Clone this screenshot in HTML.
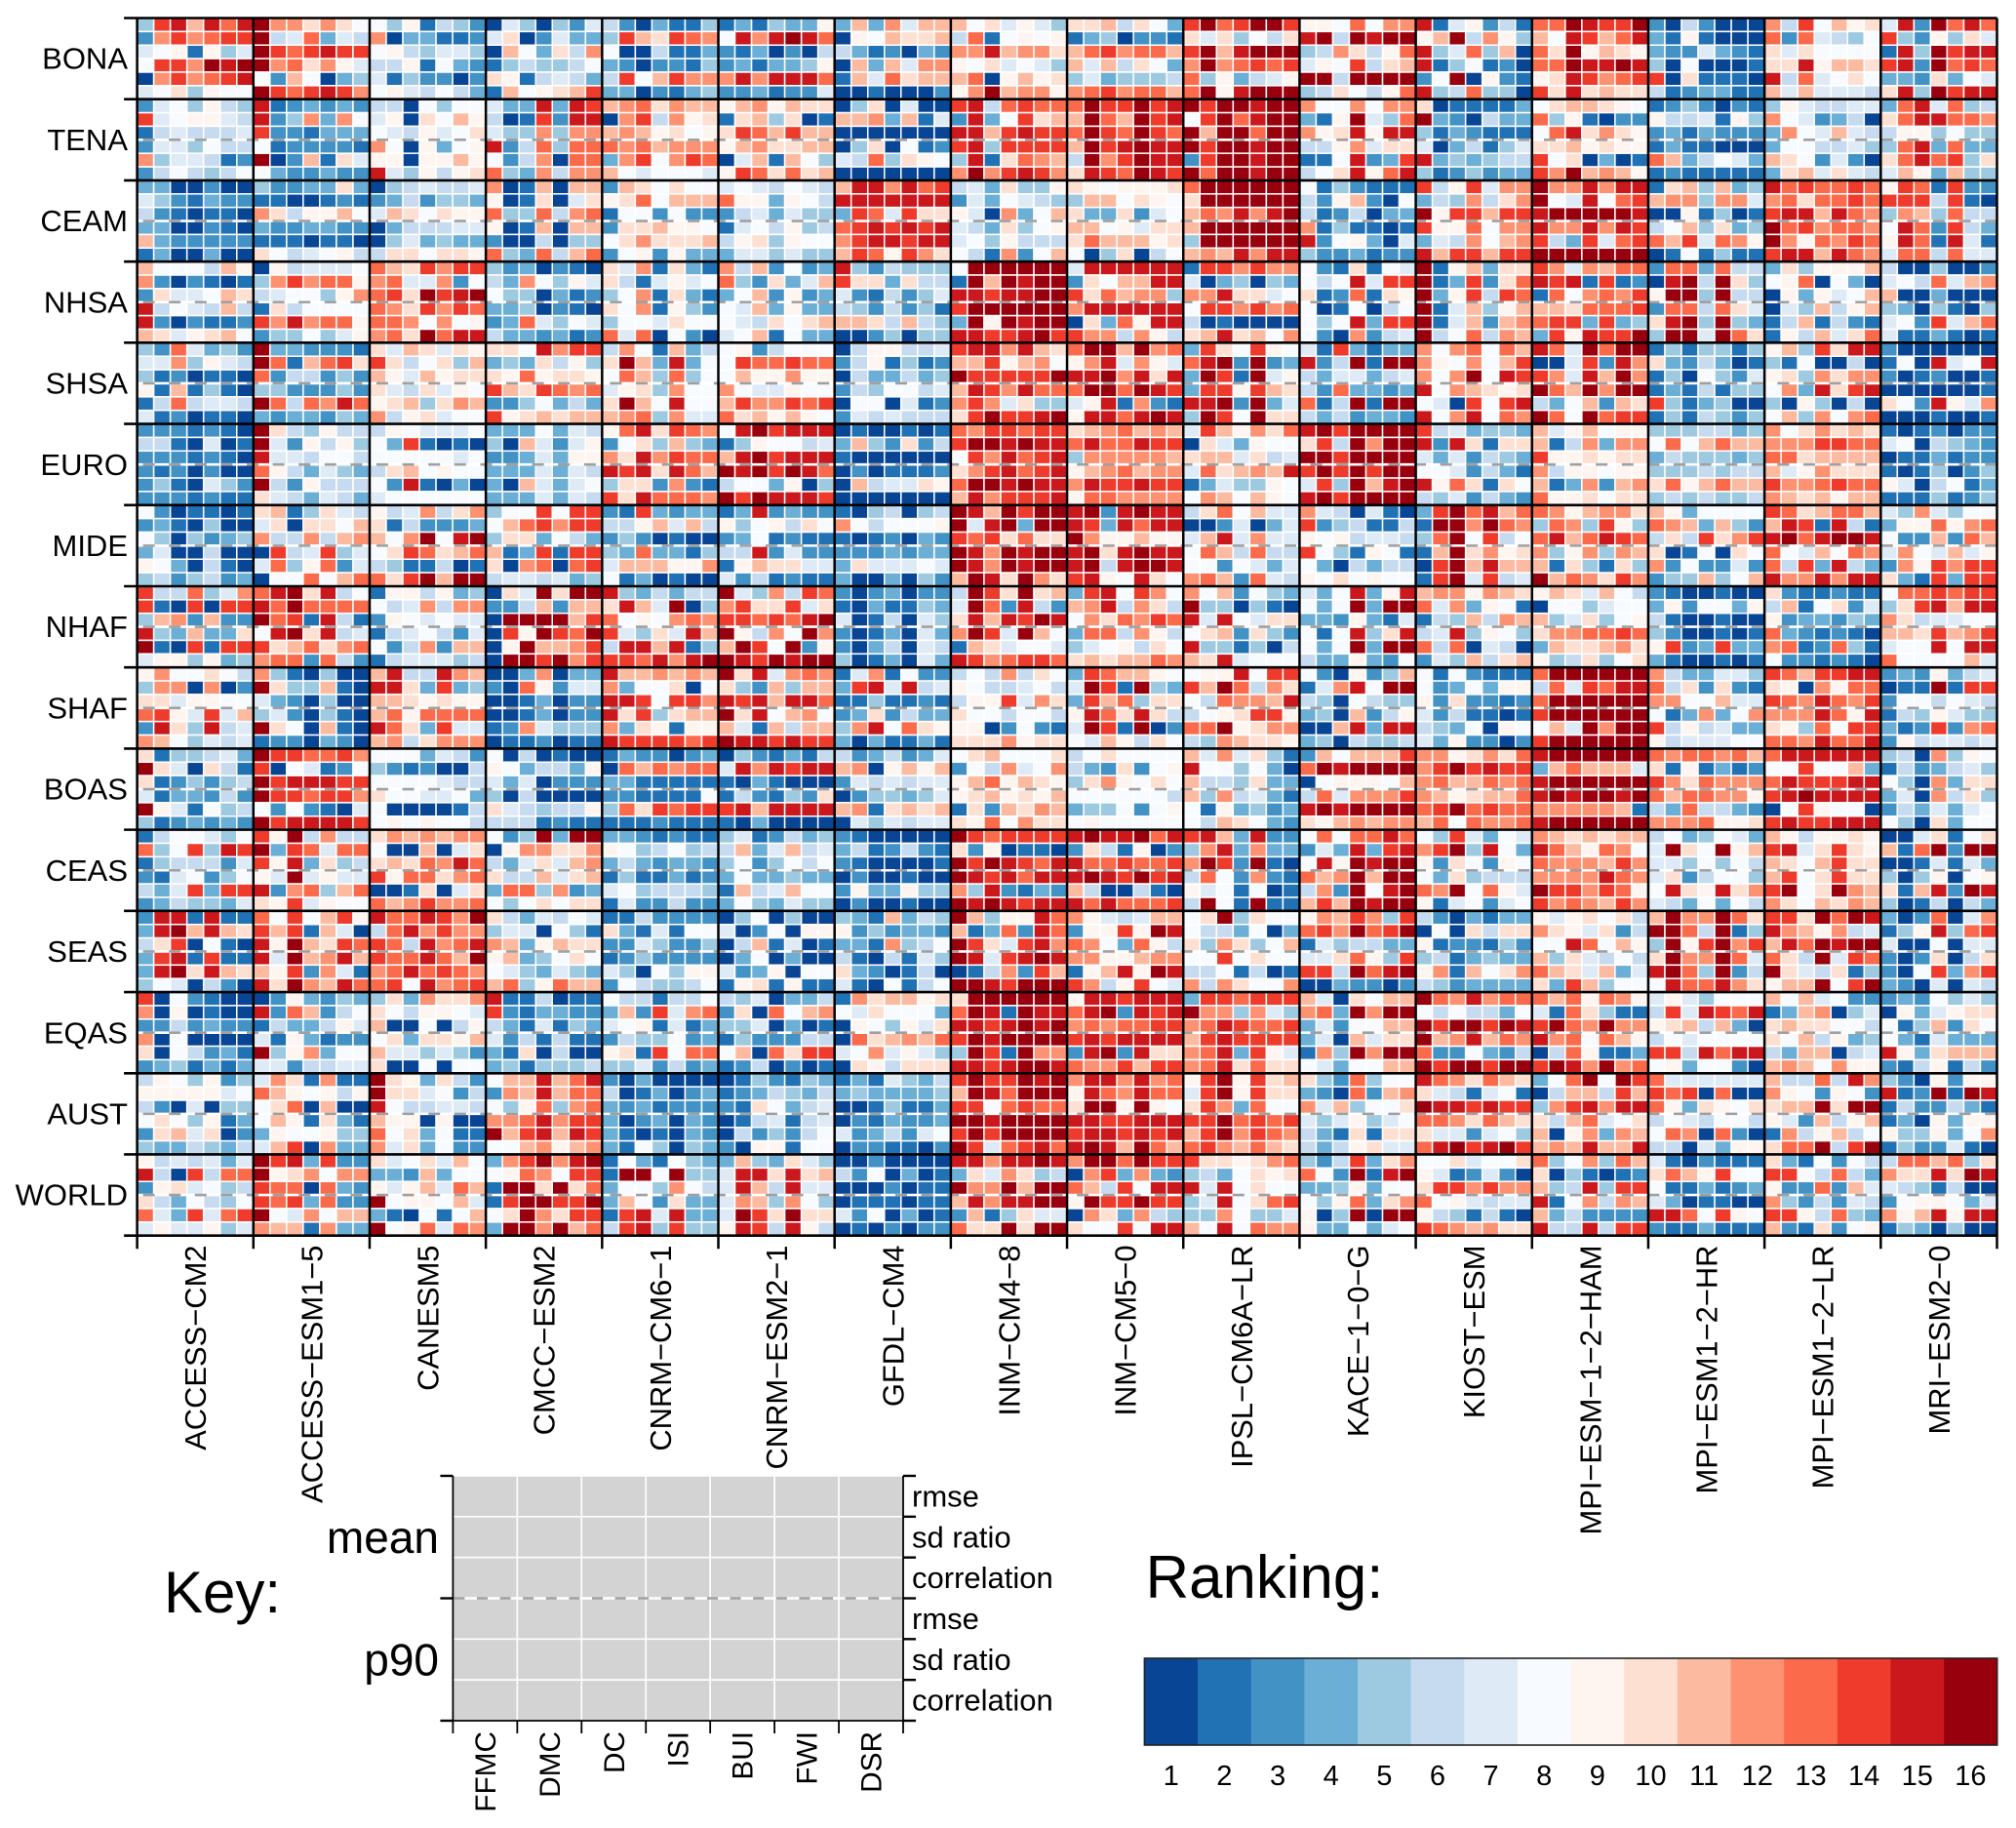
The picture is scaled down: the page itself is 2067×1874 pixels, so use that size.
<!DOCTYPE html>
<html lang="en">
<head>
<meta charset="utf-8">
<title>CMIP6 model ranking by region</title>
<style>
html,body{margin:0;padding:0;background:#fff}
svg{display:block}
text{font-family:"Liberation Sans",Arial,sans-serif;fill:#000}
</style>
</head>
<body>
<svg id="chart" xmlns="http://www.w3.org/2000/svg" width="2067" height="1874" viewBox="0 0 2067 1874"></svg>
<script>
const regions = ["BONA","TENA","CEAM","NHSA","SHSA","EURO","MIDE","NHAF","SHAF","BOAS","CEAS","SEAS","EQAS","AUST","WORLD"];
const models = ["ACCESS\u2212CM2","ACCESS\u2212ESM1\u22125","CANESM5","CMCC\u2212ESM2","CNRM\u2212CM6\u22121","CNRM\u2212ESM2\u22121","GFDL\u2212CM4","INM\u2212CM4\u22128","INM\u2212CM5\u22120","IPSL\u2212CM6A\u2212LR","KACE\u22121\u22120\u2212G","KIOST\u2212ESM","MPI\u2212ESM\u22121\u22122\u2212HAM","MPI\u2212ESM1\u22122\u2212HR","MPI\u2212ESM1\u22122\u2212LR","MRI\u2212ESM2\u22120"];
const indices = ["FFMC","DMC","DC","ISI","BUI","FWI","DSR"];
const metrics = ["rmse","sd ratio","correlation","rmse","sd ratio","correlation"];
const statistics = ["mean","p90"];
const legendRanks = [1,2,3,4,5,6,7,8,9,10,11,12,13,14,15,16];
const palette = ["#084594","#2171b5","#4292c6","#6baed6","#9ecae1","#c6dbef","#deebf7","#f7fbff","#fff5f0","#fee0d2","#fcbba1","#fc9272","#fb6a4a","#ef3b2c","#cb181d","#99000d"];

// Ranks are base-17 digits (1-9, a=10 ... g=16). One string per model; six rows of seven indices.
const rankBONA = [
"5efbfdf 3cecdee 7892957 8eecgfg 1cecdef 78a5988",
"gccaca8 g67d476 gedefee gcdac97 83b8145 gedefec",
"8592653 c144223 8965775 6692843 7253313 8976864",
"1751537 7a13744 1b84a6c 2565568 a926764 2b89abe",
"6314225 5ebaedc 8116224 4313325 6e8becc 4413245",
"2425449 8fcfgfd 3241316 3424459 cfcfffd 3342337",
"4b4c7bb 198baab 6423143 1b4b7cc 2b7dabb 1121113",
"b8a7975 6d28989 ccfbcca 98a7875 bd19b9a 9cgbcc9",
"aab6a84 2451332 bdecddb b7b6a84 5745556 cdecddb",
"egdegge a7a586a egbfggg cgcdede d594679 dg9fggg",
"998d8cc fg6gfgg 56ca69d 798e6ab gg6gggg 56a869d",
"f279362 9bg6c95 f57d5b1 f258231 38g1932 f56d551",
"ddgfeeg b8febdf dag9ba9 ddgffgf 9afecde eafabaa",
"3163111 4292111 4337432 5181112 e1a2221 6234422",
"c6e8b9a d3d7658 a7a8888 aaf9bba f6d78a8 b7b7776",
"7f3gdfd e5395a7 2f5geff ef3gded 443a487 af5geff"];
const rankTENA = [
"3785965 e789976 2676667 3775866 c577623 3686568",
"f234343 f35c4c8 e332444 8233332 g13b2a7 8433433",
"6618588 791a8b9 876978a c819489 99199b9 f75969a",
"744f4fe 612e3ff 755c5cc f36d5dd 836c1dd d54c6cc",
"bcdacbb 1ce6c9a bcb9a89 dcdbccc 4ce8ced b878887",
"9bc9baa 2ab5a12 aedbebb 9bcaabb 17b2b85 9edadab",
"15a1711 bbc4b27 1111111 15a1823 76d5a98 1111111",
"ef6dedd 3f48eab ffbefee ef5eeee 5f2adcb cgcefec",
"dgeegef bgdbgef dgedged bgefgff 6gcegff afedgfe",
"geggfgg 8egdfgg gbggdgg geggfgg 3eggfgg gdggfgg",
"c88c8cc 429g75d c9af9ff 669c7aa 228f34e 68af9df",
"a122224 g431644 5243222 7146257 f454566 5235344",
"8abba98 d592133 8dfaca9 aab9a99 e8a1412 ecgbcb9",
"2353132 9667295 3424333 2422111 db46874 2322222",
"5976677 c873461 4c87b76 4886675 ba83731 4ab7a76",
"4df7d56 adffddc 6995855 5df4d44 adfde5a 7b94b55"];
const rankCEAM = [
"4411311 7532433 6321221 4411321 b433333 2411411",
"53344a4 2211232 ca699b8 4334433 2221221 a867896",
"1567667 3463554 7ba8a99 1466677 1574544 6aa8aa9",
"c12b1bb 912a17a d55d6cd 912b1bb 3116155 d54d6bd",
"3ba8a88 9ad8bbb 2883833 3aab998 8acaaab 3893944",
"7876876 d994986 3674755 2786956 69a5988 4775755",
"bffcfde fffffff 4ed7eaa defefef ceffeff bed9eca",
"674a559 3748765 971c48b 764a589 7859666 862c38b",
"a98999a 5bb8a98 a44a378 bb897aa adbbb9a 815a168",
"dgggggg agggggg bdcfcfg bgggggg 5gggggg bcbfcff",
"8253222 639b318 6236144 c252212 f389417 5334233",
"e69e7cc 465c6ac g9eebee e99d8cc 476c8bc fbeebee",
"gccfcff g87f8de fgggggf fccfcfe e64e7de ggggggg",
"2ab5b45 bcc5cc7 1192512 68b5a45 dbe7dc9 1282522",
"fdedded cdadded effbfdc gdecddc gc9dced effbfdc",
"9ed2e33 eee6e21 5cb5d66 8fd3e64 9fd2f72 7dd6d77"];
const rankNHSA = [
"b8886b9 c313212 3a778ba f6876b6 f313223 ba79ab8",
"1967778 5cecdd9 678859c 2a68888 ecfcdd9 3558579",
"dbaecee cd77c38 deagefg dcaeced ddc8c89 cdagdff",
"5341321 64c8597 8551423 4451321 34d7587 6443423",
"a7c2a42 a627978 58c2a42 a8c2953 5887a88 d7d1831",
"c6b3834 d53a47b 48b3934 87b4944 876a8ab 78b2844",
"f536555 eaa4a66 7326357 6536352 bba6b65 1135155",
"8gggggg 2gbgfgg ffeffgg egggggg 4g9gfgg ffeefge",
"7ffffff 3a8bbff eadbcc5 cffffff 1a4d9ff ecc6c96",
"2eececc 7145154 ccfaa78 8eececd 6121111 abfab8c",
"832a287 868f7ee a23d2a9 8128168 858f4ee 831c367",
"g29b4aa g24e3ad g49e6ed g27b59b g27b3bc g68d6cb",
"ec7cbdd fef2e23 2d8cdce bbaddde dee4e45 4e9feeg",
"3dd4d66 1fg6ga5 9gg5g66 3dd6da7 afg5g54 5gg7gda",
"4a5999b 89d1841 194978b 175b69b 26b2632 296b7ad",
"6115113 786d7bc b114111 5415215 783e7bd 7224212"];
const rankSHSA = [
"53d7453 77c5976 5231221 92b2521 26d6776 7231221",
"g443332 gd2bdea d366353 5533353 gd6dcfd 4344354",
"a7ba7a9 ea68a5b b97b9aa a76a798 9ab5acb c69a788",
"aa8fcee 454a695 a9d9aa9 ebaedcd 3358464 e9ababb",
"6c82b46 agb4f48 8db5d58 79a5c88 agb8f88 bcd5c77",
"8936888 8eddedd 8b99c99 c877988 beccede dab9b98",
"1699667 3692523 1644645 3658867 1881723 3767666",
"effcfba bbe9bc8 geeeeeg bfecfdd cec7a55 aegeefg",
"dggbgcd 9cf7c97 ffgcfaf dggdgfe 79f2c32 9ffdfgf",
"4ea8e98 dfg3g34 4ge2g79 4ee9eba ffg3g47 5ge8gaa",
"72e4244 f36g2gg 6477467 63d4434 d26g2gg 6463443",
"c8cd8db c98c8be c8cg8fe f8cba9a 871e8ef f8cf8dc",
"fd7gdgg 117e3fc ec7fbgc gdbgcgg 648b3ba gd8gdee",
"2525525 a436412 2518537 2426255 e524511 2526535",
"9b5eaff 5281161 9a5cacc 8c4faef 5195161 8b5c8cd",
"3111111 281f78f 3123112 1111112 a83f97c 1112112"];
const rankEURO = [
"3332321 6621712 3332321 3231311 3521753 3332322",
"ga65966 g739695 f776886 d964754 g639666 a764764",
"6987778 84e2121 8888878 6ab8988 83f2141 7888888",
"4448476 51b7379 3347499 4447476 41b7478 4447476",
"9dfaedc 38a5b54 cafcedd fefafdb 5aa3c32 eafdddc",
"8fgefff 2598867 bfgefff gfgegfd 6884915 gegfffe",
"1211212 4b53a36 2111111 1312223 1b677a9 1111111",
"dceedee eggfgff 8ecfdef acefdef dggfgff bfceeef",
"abcdbcb dfddfee 5cccccb 9bcdbcc cfeefee 9ddcccc",
"7eb9cad 1a74988 abb7a67 7dabcbf 2475598 8cb8b98",
"fgegggg ae6gcgg ggegggg egegegg 7e5gbfg fgegggg",
"e674554 f3fa2aa 7473654 8873642 f9da2a8 6573643",
"b79b899 b26c4cc e99a9aa c699899 b24c3bc d99a8aa",
"5556645 8d8bdbb 4655545 5556566 ad9bdbb 5656556",
"c8acaba ccceedd ddabbbb b79caaa eccdedd cbab9bb",
"2123133 7816543 1224233 2125135 9716824 2225235"];
const rankMIDE = [
"8312212 3421511 8515345 4711611 9841621 5635634",
"ab25a76 7a1aa8b c66c6bc 1e67e57 7d59d37 188d8bd",
"967c6ac a263334 b8cg8fg 8aedabd 6522612 daegbgg",
"588e8ee 8bdecee 5aa4864 b24e2ee a1cd1de 6776745",
"32e4344 669b7b6 3531211 54d4425 7bbb99c 8241211",
"24f3433 95896a8 3482322 66f3733 29baa77 7362322",
"2156156 c868889 2123143 3334344 4a77787 4114153",
"gfbgegg g7fg4gg edeadaa gfcgfgg gfcgfgg bgfagca",
"fg3fgff fe4fdff gc99b99 fgafgff fg6fggf ef98fa8",
"6ad8b77 1137147 7bf7c77 8db6d66 8838747 cdb3d76",
"c761721 e356226 9896776 e852982 8416466 98a8988",
"4egdfbd 2ggcgdc 5dg8e68 2bgac9a 1egbfbb 2eg7e67",
"dc9bcca 5dc5e95 dfbdfed c59c5cb b2a52a5 gbdcaec",
"b948888 dcb4b53 6a6eace a1281a8 c383373 355b58b",
"edabddb bfe2f62 fgdfggf d87b8dc d6e4f64 fccfcff",
"75c7588 499d9cd 833b3db 7c87b79 3c9ecee a42e4ee"];
const rankNHAF = [
"e66d57c e21e1ee 5bc3b33 f54b44a g21e2ee 7995945",
"dfgaf68 fdgdddd gde2f62 8fgaf67 eabdacd cdd3d63",
"2996945 867c6cc 3987877 2678637 836c3bb 2677756",
"1a7gagg 336b3bb 1ggggbe 1e9gedg 19gbbce 1ggegce",
"f546466 afb7g15 d898cdc e75a7fb 6ffbf25 eedfcfg",
"g75c6ed ceaae7a eededfg g96c8gc bge8g39 gfegfgg",
"3134133 2142254 7126175 3124174 3146176 5124174",
"6geagab 7gd3f63 afbfegf cge7gb8 2ba7887 fecdeed",
"4ef8ec8 bcf6ca6 8cadced 4dd6c96 57896a8 ababbdc",
"c8b3854 g551521 f7f87aa 8ab3a53 f552516 baf7888",
"748f49f 848g4gg 4439427 828f5af 848g4gg 6449438",
"bcc9cba d7c4982 265b6cb 67f5985 d6d1761 375b6ab",
"9ba7b86 1885788 b57a589 accdded 4baabca 956a58a",
"3211211 4938849 6211211 5311212 9e34e44 4211212",
"a322322 6b28a37 9344354 d432321 cd23d52 8332321",
"8ddedee 5aefbff ca67788 bbaebce 788f8ff d8888b7"];
const rankSHAF = [
"9c88a86 5cc1c13 aa79988 de97e7b 3fa5f67 cb85767",
"c521511 ga55b21 7431511 5731521 ga81b21 2331431",
"bf66fcb ffa4e45 bba9a99 bd9dddd fda4e77 bc6accc",
"114c144 31d9377 1124133 1124133 23c7555 1223122",
"fbbcbcb c488a18 ffe8eec fae5abb c4a9299 feeeede",
"gaf7cdc a53b5bb fefbffd gaf8bc8 b72b6bb gffefee",
"27c2833 4ef7f67 2252232 34a3644 5cf8da9 4142242",
"686c6a8 9866786 699e7ca a886886 9913832 aaac9aa",
"4edbb98 7ge2g54 4ebd5aa 9fdafa6 7ge2g13 87b96a8",
"899f8ee ebgd6ca 86dccbf 689aee9 ddg9acc 65cbaa9",
"831935b 27cf8gg 6518655 451b369 11bf4ff 4516556",
"8283222 8348499 93a3323 7362212 6548198 7493313",
"dgggggg 6d7edff dgggggg egggggg 8b7gcgg egggggg",
"c644775 d6a3a32 cc88b77 824c48c e696744 9677788",
"edbeeff a91c9dd edcfdce cccfd9f a95d8ee ddcfddf",
"3439467 122g2ee 3886876 2659755 423e3cd 3967767"];
const rankBOAS = [
"a255674 ga71a62 a235356 7244363 g972856 5234343",
"geeddec e187238 gefffee geedeec 8383217 geffffe",
"8884763 5323116 8888766 a887784 8111126 8989886",
"8161211 9846649 7471333 5161111 a765669 6662322",
"2433134 1dbdcdd 4422222 3322228 5daedee 2223222",
"1532426 7fcfeff 2142111 263253a efbffff 2141111",
"6346347 bc19b9b 3767677 1355457 bc2abab 1757677",
"8ab888a 386c78c 9bd9ba9 9ab9a9b 2a3bacb a9d8caa",
"68a8888 643a389 5ac98a8 8888886 4558389 8988888",
"b7c7a52 f885841 b665a44 b5c6742 8294534 86ba843",
"3b8bbbe dgfgggg 189998b 6d7ccce fgfgggg a9bcbcc",
"cc9acad cegefee cdbbdcd cb9abbd degdedd bd8dccd",
"fgggggg 4bdbbb7 fgggggg fgfggfg cccccb2 fgggggg",
"dcddcdb a292423 ecadccc dbddcc9 64d6643 cccd99a",
"dffffff 88e88b4 dfeeeff efgffff 18e9881 efeefff",
"561c598 2634675 851c4aa 471c6a5 3647478 851a488"];
const rankCEAS = [
"2688758 d58e5fe 2566637 3278358 647e4ee 3465547",
"e9g6c66 g4ed7dd e9f4a56 97g7977 f3cd5bd a9e7988",
"acbcbcc 811b17a abadcfd e9ddacd 112a17a dbceccd",
"835g4gg 19ccaac 647a7bc a66b7ab 4dd5c34 858a8aa",
"4432322 9856856 4643443 2522423 7856665 2733633",
"5723645 6b47b67 5835868 4844544 2b67b88 4854755",
"3211111 4623632 3211112 1311211 3944955 1311211",
"gedeeee a391221 gegfedf gfefdff c5f3243 gfgfeff",
"fgffgdf 3a62913 fddedde fgfegef b611621 fdfddde",
"efb4f33 5cf4c44 cge3g21 6d83c32 9782812 6g82g22",
"8d8ddfd 374f4ef 8f9gfgg dbcgbgg 6c3g8fg bebgfgg",
"85e7487 ceg5f84 93a8398 84a5666 dcg8d97 9278378",
"cbababb fdb9dc8 dcccbec ccccfdc geeced9 ecdcbec",
"6845874 7ga8g9b 7758586 7a36885 8fa9fac 7648486",
"b9699a9 ef7aea9 ba8beaa be8aeaa eg8agcb ca8bacb",
"117a28a b2dg3gg 1127274 5159189 a2bf3gf 5126164"];
const rankSEAS = [
"3ff2f22 4fgbfba 6ae1821 4ef2e22 4fgafba 5871631",
"d8e8be9 ebe2b71 f9gbaed f7gbcfb b9e3c72 fagcbfd",
"fddfecg 6dfcecc ed6fcdf eddfdbg cdfdedc de8fcde",
"a647687 5771852 cb49baa 9b458a8 8754754 bd59dbb",
"2263333 a427288 3375335 2353333 7518599 3865568",
"1581511 7138199 16b2712 1481411 7349188 29a2922",
"542b465 9353443 442c568 6216275 a431261 7218268",
"gb599fd b24d3fd gea7efc gf7efgf 126c3eb ggfeggg",
"c9767bb 399e9gf dc84d96 cc99bcc 29bf9gf ec69e87",
"8ag5a88 8664814 a5ca58b 88e8a88 6682612 c6ca88c",
"9cbec5e decgdeg 2756644 77ad95e ee6gdfg 1143313",
"6314244 181a6aa 9233253 5624544 9c2b8ac 6534444",
"979a8a6 ca97a36 88fd8b9 b5a7686 dba7b47 a4eb588",
"bgccgda ggd6g25 5g9egce agccgd7 fgd5g36 8fddfca",
"eeagdgf fcb9c67 bfdgfgg da6g7ed ga76a25 9bbg8eg",
"413d17c 259f5de 7118177 313a16a 318e4ce 4317176"];
const rankEQAS = [
"e183211 c191211 3363433 c181111 a186342 3452424",
"1394354 f3db368 2644697 7294233 g59c488 7736677",
"5a4caac a869987 b118169 8a4aa9b b775753 a118188",
"f226122 e324433 6427254 7362622 42a1611 4525556",
"8662668 4b3e7cd 7892724 3655834 9a2e8dd 5573634",
"6571446 3a1d8bc 5571412 2533366 8b1daee 2361312",
"2cabb9a 87a8884 198597a 1dabcbd 78c7975 1a96aaa",
"agggggg dgf2gff ffefgfg egfgggg 5ge2gcc ffefggf",
"9ffefff dfg3fef cdcddee efeffff 3fg3faa dccebee",
"4eedeee gcc5c75 cdfedde befeeee cdf4e97 cdfadaa",
"b71a8bb cd4gcgg 47388bb 471b7aa 2c5gcgg 87488bb",
"gdcfcdd 8686648 geggegf gbcfbdc d338436 geggegg",
"dbd9dc9 72da522 egdcgcc fcd8db9 16d9224 egfcgcd",
"7975888 6e7fedf 9ab6b41 6878888 ee6fdff 8948831",
"b8b7833 24bc157 abaa886 a8b6945 64bb167 bcb8c99",
"3438575 19479aa 825b3a8 8427444 f94abbb 3269263"];
const rankAUST = [
"6985935 9999978 6317155 8a85924 3ab7a13 5446546",
"7ca2c22 db98969 8ad1b11 8b92a42 4988955 7be1c44",
"ga94a63 gaa7836 f866776 b991911 d8a4822 c7a4833",
"8bbfbdf 3cbfbdd 859d5cd ccdfcee gbefbfe 88bc9bc",
"3141111 6124134 4342333 4134143 4212143 4285154",
"1253254 2346546 32a8467 1267267 1635368 3199288",
"2427546 4544445 1125224 1324334 7346378 1332213",
"egeegfg bgfdggg ee8dedd ggfgggg egegggg ge7defd",
"cffcfcd 9fdcfdd agg9g98 ffeefff effefef fgfbgdb",
"9eg9eab 7eg9eaa aec4d88 eegdede begcedc decbdba",
"a53d588 431d3bc c7b588a 7579578 642a2aa 6469a77",
"fdcadba a762782 gffefee ddcadba a773785 dfgefge",
"48dg8ge 16bb6eb 5cefcff a6bd78a b19c4cb bcbfbbf",
"d777777 ede1d11 d94a98a 6876886 8dc1d31 6617499",
"b66d6fc c983983 abbgagg 973b69b 2c69b68 addg6eg",
"5319399 f23g2gf 2633642 2419499 955948c 2533721"];
const rankWORLD = [
"9676747 f61e6dd 39a7856 a648658 d74e7de 7977957",
"gef4e33 g9ac8cc edd1d43 ede4d33 g87c8bb cbb2c44",
"a78a7b8 443b488 979b7db g8998b7 421828b g89d7dc",
"4cegcfg 89dc8ee 2ggagad 2eggeeg 8agcaee 4ggcgbd",
"2842854 2gg8g55 4885c86 4b83a44 2ef7f44 6ef5e55",
"4b54a75 7ffafab 7fb6f77 7cb5c85 7geagaa 9fe6f96",
"1131111 6381412 1113122 1222122 7381412 1213133",
"ffcffgf 4a7ca56 gccgbgg bfcffgg 3b25a77 daagagg",
"cggdgee 1ce4c43 db6e8ff 9geegee 1ca4c65 a88e8ff",
"eaa9acd 5648a9a f7f8a88 57f8ade 55c8557 b8f8dcc",
"536e4ac d83g2fg 4459488 859d4ac 915g1gg 9448478",
"88a788a 9723731 aeececc d897677 9652621 edcbcaa",
"d58c5db a152123 b56f5ee f28c6cb b463333 f66f6ee",
"7213222 adb9e88 8224234 7412211 ffd8e98 3224222",
"a428386 ee86d64 933d3b7 c536376 ee96d54 b32a389",
"6ddbd5a caafagf 7652611 3899847 c9bf9ff 2541511"];
const rankings = [rankBONA,rankTENA,rankCEAM,rankNHSA,rankSHSA,rankEURO,rankMIDE,rankNHAF,rankSHAF,rankBOAS,rankCEAS,rankSEAS,rankEQAS,rankAUST,rankWORLD];

const NS = "http://www.w3.org/2000/svg";
const svg = document.getElementById("chart");
function make(tag, parent){
  const el = document.createElementNS(NS, tag);
  parent.appendChild(el);
  return el;
}
function setAttrs(el, attrs){
  for (const k in attrs) el.setAttribute(k, attrs[k]);
}
function line(parent, x1, y1, x2, y2, w, color, dash){
  const el = make("line", parent);
  setAttrs(el, {x1:x1, y1:y1, x2:x2, y2:y2, stroke:color || "#000", "stroke-width":w});
  if (dash) el.setAttribute("stroke-dasharray", dash);
  return el;
}
function label(parent, str, x, y, size, anchor, rotate){
  const el = make("text", parent);
  setAttrs(el, {x:x, y:y, "font-size":size, "text-anchor":anchor});
  if (rotate) el.setAttribute("transform", "rotate(-90 " + x + " " + y + ")");
  el.textContent = str;
  return el;
}

// Main heatmap axes
const plotLeft = 140.6, plotRight = 2047.5, plotTop = 18.5, plotBottom = 1266.7;
const blockW = (plotRight - plotLeft) / models.length;
const blockH = (plotBottom - plotTop) / regions.length;
const cellW = blockW / indices.length;
const cellH = blockH / metrics.length;
function xModel(m){ return plotLeft + m * blockW; }
function yRegion(r){ return plotTop + r * blockH; }
function xCell(m, i){ return xModel(m) + i * cellW; }
function yCell(r, k){ return yRegion(r) + k * cellH; }
function rankColor(rank){ return palette[rank - 1] || palette[7]; }
function rankAt(r, m, k, i){ return parseInt(rankings[r][m].split(" ")[k].charAt(i), 17); }

const cellsGroup = make("g", svg);


cellsGroup.setAttribute("stroke", "#fff");
cellsGroup.setAttribute("stroke-width", "1.5");
for (let r = 0; r < regions.length; r++){
  for (let m = 0; m < models.length; m++){
    for (let k = 0; k < metrics.length; k++){
      for (let i = 0; i < indices.length; i++){
        const c = make("rect", cellsGroup);
        
        
        setAttrs(c, {x:xCell(m,i).toFixed(2), y:yCell(r,k).toFixed(2), width:cellW.toFixed(2), height:cellH.toFixed(2), fill:rankColor(rankAt(r,m,k,i))});
      }
    }
  }
}

// Mean / p90 dashed separators
const dashGroup = make("g", svg);


for (let r = 1; r < regions.length; r++){
  const y = yRegion(r) + blockH / 2;
  line(dashGroup, plotLeft, y, plotRight, y, 2.6, "#fff");
  line(dashGroup, plotLeft + 6, y, plotRight, y, 2.6, "#a0a0a0", "12 14.6");
}

// Grid lines, ticks, labels
const gridGroup = make("g", svg);


for (let m = 0; m <= models.length; m++){
  line(gridGroup, xModel(m), plotTop, xModel(m), plotBottom + 13.5, 2.5);
}
for (let r = 0; r <= regions.length; r++){
  line(gridGroup, plotLeft - 13.5, yRegion(r), plotRight, yRegion(r), 2.6);
}
const regionLabels = make("g", svg);


regions.forEach(function(name, r){
  const t = label(regionLabels, name, 131, yRegion(r) + blockH / 2 + 10.6, 31, "end");
  
  
});
const modelLabels = make("g", svg);


models.forEach(function(name, m){
  const t = label(modelLabels, name, xModel(m) + blockW / 2 + 11, 1276.5, 30.9, "end", true);
  
  
});

// Key panel
const keyLeft = 464.4, keyRight = 926, keyTop = 1513, keyBottom = 1764;
const keyW = (keyRight - keyLeft) / indices.length;
const keyH = (keyBottom - keyTop) / metrics.length;
function xKey(i){ return keyLeft + i * keyW; }
function yKey(k){ return keyTop + k * keyH; }
const keyGroup = make("g", svg);


for (let k = 0; k < metrics.length; k++){
  for (let i = 0; i < indices.length; i++){
    const c = make("rect", keyGroup);
    
    
    setAttrs(c, {x:xKey(i), y:yKey(k), width:keyW, height:keyH, fill:"#d3d3d3", stroke:"#fff", "stroke-width":1.6});
  }
}
line(keyGroup, keyLeft, yKey(3), keyRight, yKey(3), 2.6, "#fff");
line(keyGroup, keyLeft + 1, yKey(3), keyRight, yKey(3), 2.6, "#a0a0a0", "11 12.6");
line(keyGroup, keyLeft, keyTop, keyLeft, keyBottom, 1.8);
line(keyGroup, keyRight, keyTop, keyRight, keyBottom, 1.8);
line(keyGroup, keyLeft, keyBottom, keyRight, keyBottom, 1.8);
for (let k = 0; k <= metrics.length; k++){
  line(keyGroup, keyRight, yKey(k), keyRight + 13, yKey(k), 2.4);
}
for (let k = 0; k <= metrics.length; k += 3){
  line(keyGroup, keyLeft - 13, yKey(k), keyLeft, yKey(k), 2.4);
}
for (let i = 0; i <= indices.length; i++){
  line(keyGroup, xKey(i), keyBottom, xKey(i), keyBottom + 13, 1.8);
}
metrics.forEach(function(name, k){
  const t = label(keyGroup, name, 935, yKey(k) + keyH / 2 + 10.6, 31, "start");
  
  
});
indices.forEach(function(name, i){
  const t = label(keyGroup, name, xKey(i) + keyW / 2 + 10.5, 1775, 29.8, "end", true);
  
  
});
statistics.forEach(function(name, s){
  const t = label(keyGroup, name, 450, yKey(s * 3) + keyH * 1.5 + 16, 46, "end");
  
  
});
const keyTitle = label(svg, "Key:", 168, 1653, 60, "start");



// Ranking legend
const barLeft = 1173.4, barRight = 2047.7, barTop = 1700, barBottom = 1789;
const barW = (barRight - barLeft) / legendRanks.length;
function xLegend(n){ return barLeft + n * barW; }
const rankingTitle = label(svg, "Ranking:", 1174.5, 1638, 61.8, "start");


const legendGroup = make("g", svg);


legendRanks.forEach(function(rank, n){
  const s = make("rect", legendGroup);
  
  
  setAttrs(s, {x:xLegend(n), y:barTop, width:barW + 0.3, height:barBottom - barTop, fill:rankColor(rank)});
  const t = label(legendGroup, String(rank), xLegend(n) + barW / 2, 1830, 29, "middle");
  
  
});
const barFrame = make("rect", legendGroup);


setAttrs(barFrame, {x:barLeft, y:barTop, width:barRight - barLeft, height:barBottom - barTop, fill:"none", stroke:"#222", "stroke-width":1.6});
</script>
</body>
</html>
